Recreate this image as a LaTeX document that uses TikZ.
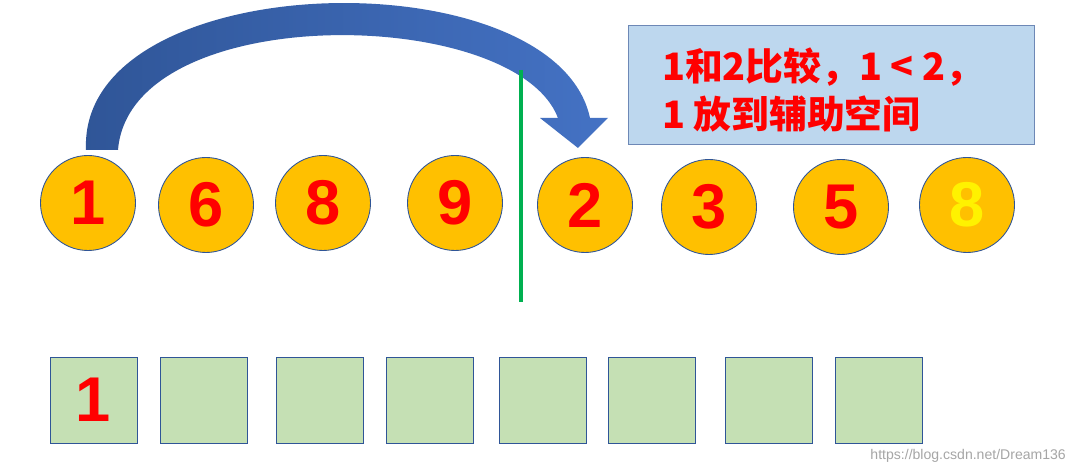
\documentclass[tikz,border=0pt]{standalone}
\usepackage{fontspec}
\setmainfont{Liberation Sans}
\newfontfamily\cjk{Noto Sans CJK SC}
\definecolor{ball}{RGB}{255,192,0}
\definecolor{sq}{RGB}{197,224,180}
\definecolor{edge}{RGB}{47,85,151}
\definecolor{note}{RGB}{189,215,238}
\definecolor{gline}{RGB}{0,176,80}
\tikzset{
 ball/.style={circle,fill=ball,draw=edge,line width=0.5pt,minimum size=95*0.02cm,inner sep=0pt,font=\bfseries\fontsize{36}{36}\selectfont,text=red},
 cell/.style={rectangle,fill=sq,draw=edge,line width=0.5pt,minimum width=87*0.02cm,minimum height=86*0.02cm,inner sep=0pt,font=\bfseries\fontsize{36}{36}\selectfont,text=red}
}
\begin{document}
\begin{tikzpicture}[x=0.02cm,y=-0.02cm]
\useasboundingbox (0,0) rectangle (1079,475);
\fill[white] (0,0) rectangle (1079,475);
% arrow
\shade[left color=edge,right color={rgb,255:red,68;green,114;blue,196}]
 (86,150) .. controls (78,-35) and (555,-45) .. (590,118) -- (608,118) -- (578,148) -- (540,118) -- (558,118)
 .. controls (515,5) and (130,0) .. (118,150) -- cycle;
\draw[gline,line width=2.8pt] (521,70) coordinate (lt) -- (521,302) coordinate (lb);
\node[draw=edge!70,line width=0.6pt,fill=note,minimum width=406*0.02cm,minimum height=119*0.02cm,anchor=north west] (box) at (628,25) {};
\node[anchor=west,text=red,font=\cjk\bfseries\fontsize{21.5}{27}\selectfont,align=left] (txt) at (656,90) {1和2比较，1 < 2，\\1 放到辅助空间};
\node[ball] (b1) at (88,203) {1};
\node[ball] (b2) at (206,205) {6};
\node[ball] (b3) at (323,203) {8};
\node[ball] (b4) at (455,203) {9};
\node[ball] (b5) at (585,205) {2};
\node[ball] (b6) at (709,207) {3};
\node[ball] (b7) at (841,207) {5};
\node[ball,text=yellow] (b8) at (967,205) {8};
\node[cell] (c1) at (93.5,400) {1};
\node[cell] (c2) at (203.5,400) {};
\node[cell] (c3) at (320,400) {};
\node[cell] (c4) at (429.5,400) {};
\node[cell] (c5) at (542.5,400) {};
\node[cell] (c6) at (651.5,400) {};
\node[cell] (c7) at (768.5,400) {};
\node[cell] (c8) at (878.5,400) {};
\node[anchor=east,text=gray!70,font=\fontsize{8}{8}\selectfont] (wm) at (1072,456) {https://blog.csdn.net/Dream136};
\end{tikzpicture}
\end{document}
